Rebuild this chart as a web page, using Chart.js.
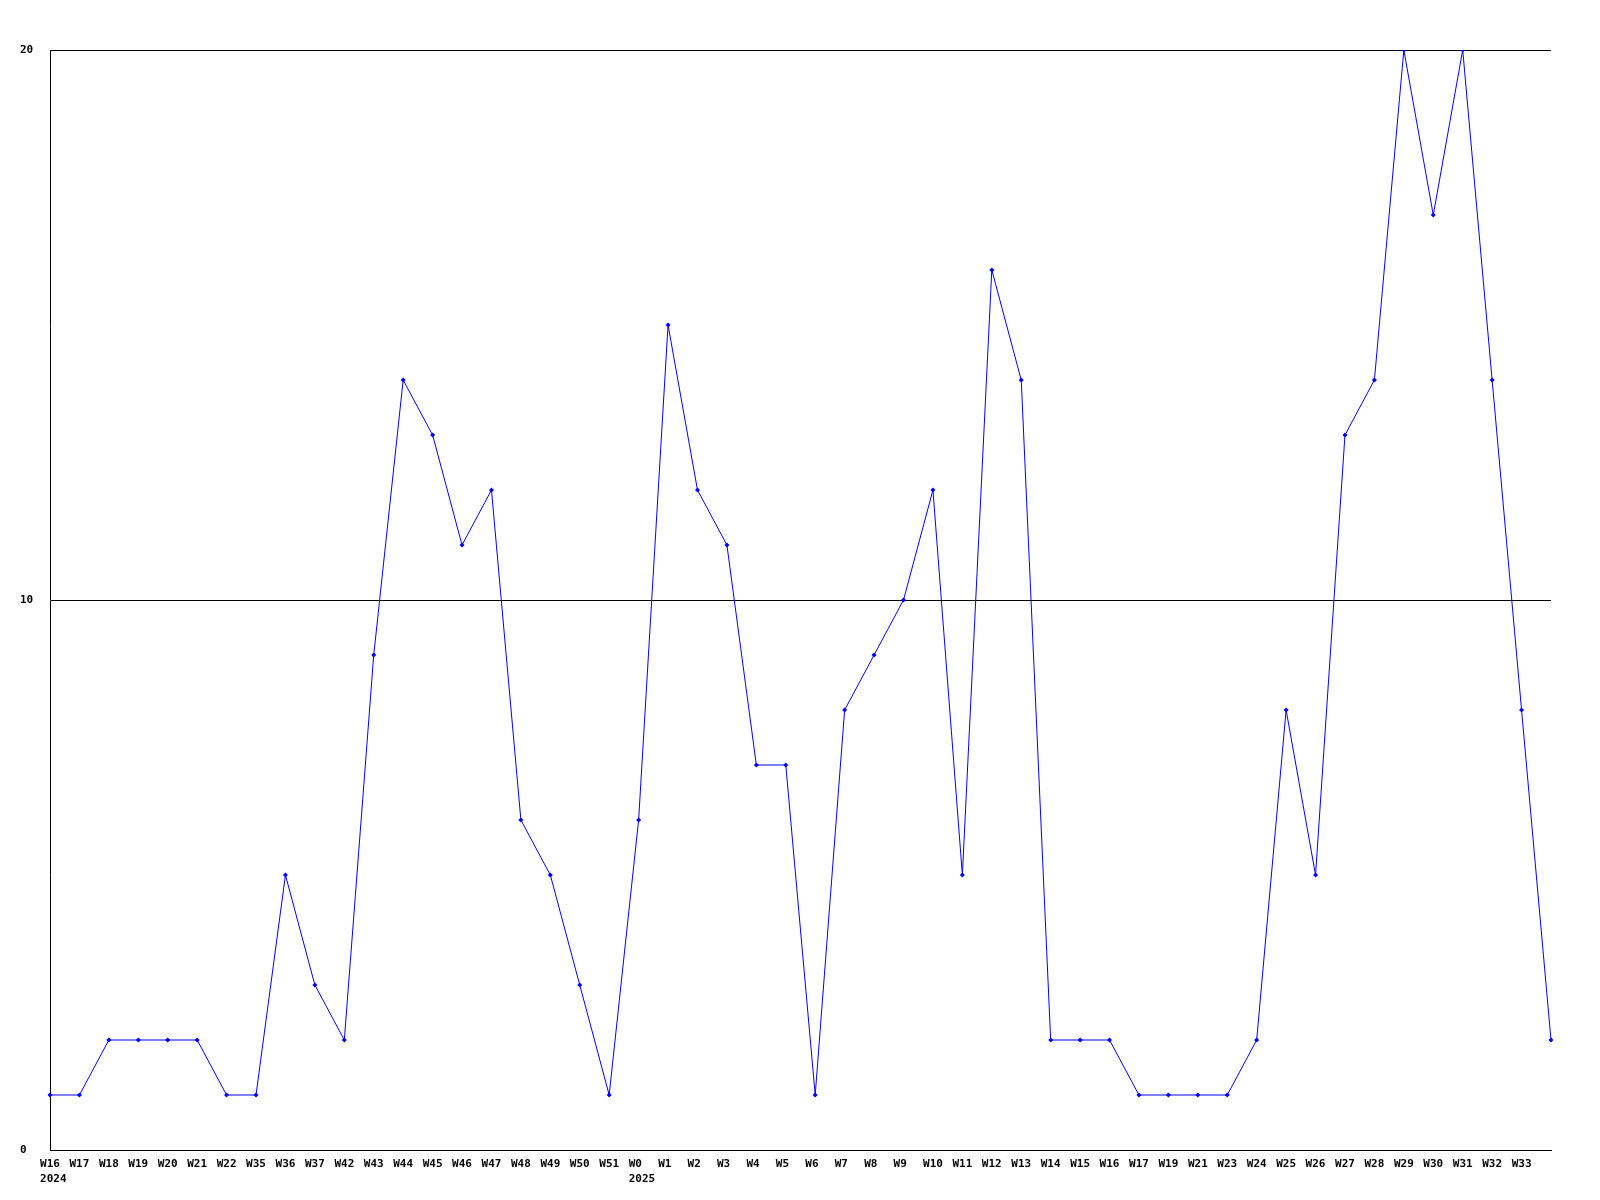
<!DOCTYPE html>
<html>
<head>
<meta charset="utf-8">
<title>Weekly count</title>
<script src="https://cdn.jsdelivr.net/npm/chart.js@4.4.1/dist/chart.umd.min.js"></script>
<style>
  html, body { margin: 0; padding: 0; background: #fff; }
  #wrap { width: 1600px; height: 1200px; position: relative; }
</style>
</head>
<body>
<div id="wrap"><canvas id="grafico"></canvas></div>
<script>
// Semanas (la última no lleva etiqueta en la imagen)
const semanas = [
  'W16', 'W17', 'W18', 'W19', 'W20', 'W21', 'W22', 'W35', 'W36', 'W37',
  'W42', 'W43', 'W44', 'W45', 'W46', 'W47', 'W48', 'W49', 'W50', 'W51',
  'W0', 'W1', 'W2', 'W3', 'W4', 'W5', 'W6', 'W7', 'W8', 'W9',
  'W10', 'W11', 'W12', 'W13', 'W14', 'W15', 'W16', 'W17', 'W19', 'W21',
  'W23', 'W24', 'W25', 'W26', 'W27', 'W28', 'W29', 'W30', 'W31', 'W32',
  'W33', 'W34'
];

// Años y la semana donde empieza cada uno
const anios = ['2024', '2025'];
const inicioAnio = [0, 20];

const valores = [
  1, 1, 2, 2, 2, 2, 1, 1, 5, 3,
  2, 9, 14, 13, 11, 12, 6, 5, 3, 1,
  6, 15, 12, 11, 7, 7, 1, 8, 9, 10,
  12, 5, 16, 14, 2, 2, 2, 1, 1, 1,
  1, 2, 8, 5, 13, 14, 20, 17, 20, 14,
  8, 2
];

const ticksY = [0, 10, 20];

const fuente = { family: 'DejaVu Sans Mono', size: 11, weight: 'bold', lineHeight: 1.4 };

document.addEventListener("DOMContentLoaded", function () {
    const ctx = document.getElementById("grafico").getContext("2d");

    new Chart(ctx, {
        type: 'line',
        data: {
            labels: semanas,
            datasets: [{
                data: valores,
                borderColor: '#0000ff',
                backgroundColor: '#0000ff',
                borderWidth: 1,
                tension: 0,
                fill: false,
                pointStyle: 'rectRot',
                pointRadius: 2.5,
                pointHoverRadius: 2.5,
                pointBorderWidth: 0
            }]
        },
        options: {
            responsive: true,
            maintainAspectRatio: false,
            animation: false,
            layout: { padding: { left: 20, right: 49, top: 50, bottom: 0 } },
            plugins: {
                legend: { display: false },
                tooltip: { enabled: false }
            },
            scales: {
                x: {
                    type: 'category',
                    offset: false,
                    grid: { display: false, drawTicks: false },
                    border: { display: true, color: '#000', width: 1 },
                    ticks: {
                        autoSkip: false,
                        maxRotation: 0,
                        minRotation: 0,
                        padding: 6,
                        color: '#000',
                        font: fuente,
                        callback: function (value, index) {
                            if (index === semanas.length - 1) return '';
                            const texto = semanas[index].padEnd(3, ' ');
                            const k = inicioAnio.indexOf(index);
                            if (k >= 0) return [texto, ' ' + anios[k]];
                            return texto;
                        }
                    },
                    afterFit: function (scale) { scale.height = 50; }
                },
                y: {
                    min: 0,
                    max: 20,
                    afterBuildTicks: function (scale) {
                        scale.ticks = ticksY.map(v => ({ value: v }));
                    },
                    grid: { color: '#000', lineWidth: 1, drawTicks: false },
                    border: { display: true, color: '#000', width: 1 },
                    ticks: {
                        crossAlign: 'far',
                        padding: 0,
                        color: '#000',
                        font: fuente
                    },
                    afterFit: function (scale) { scale.width = 30; }
                }
            }
        }
    });
});
</script>
</body>
</html>
